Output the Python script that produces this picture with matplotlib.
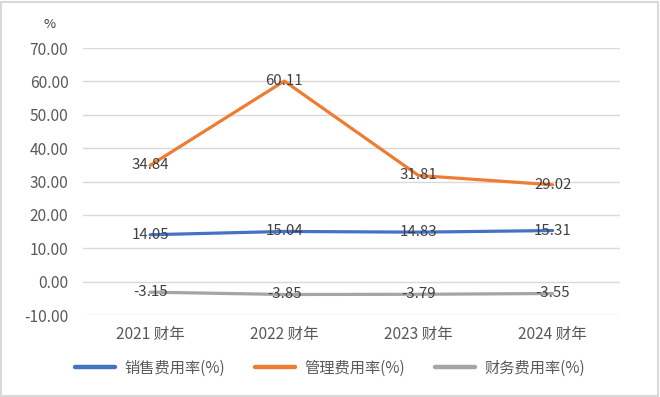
import matplotlib
matplotlib.use("Agg")
import matplotlib.pyplot as plt
from matplotlib.patches import Rectangle

plt.rcParams['font.family'] = ['Noto Sans CJK SC', 'DejaVu Sans']

categories = ["2021 财年", "2022 财年", "2023 财年", "2024 财年"]
sales_rate = [14.05, 15.04, 14.83, 15.31]
admin_rate = [34.84, 60.11, 31.81, 29.02]
fin_rate = [-3.15, -3.85, -3.79, -3.55]
series_names = ["销售费用率(%)", "管理费用率(%)", "财务费用率(%)"]
colors = ["#4472C4", "#ED7D31", "#A5A5A5"]

fig = plt.figure(figsize=(6.6, 3.97), dpi=100)
ax = fig.add_axes([0.1258, 0.2065, 0.8132, 0.6725])

x = list(range(len(categories)))
for vals, name, c in zip([sales_rate, admin_rate, fin_rate], series_names, colors):
    ax.plot(x, vals, color=c, lw=2.3, label=name, solid_capstyle='round', zorder=3)
    for xi, v in zip(x, vals):
        ax.text(xi, v, f"{v:.2f}", ha='center', va='center', fontsize=10.8,
                color='#404040', zorder=4)

ax.set_ylim(-10, 70)
ax.set_yticks(range(-10, 71, 10))
ax.set_yticklabels([f"{t:.2f}" for t in range(-10, 71, 10)])
ax.set_xlim(-0.5, 3.5)
ax.set_xticks(x)
ax.set_xticklabels(categories)
ax.tick_params(axis='both', length=0, labelsize=11.2, colors='#595959')
ax.tick_params(axis='y', pad=10.5)
ax.tick_params(axis='x', pad=8)
ax.grid(axis='y', color='#D9D9D9', lw=1)
ax.set_axisbelow(True)
for s in ax.spines.values():
    s.set_visible(False)

fig.text(50/660, 1 - 25/397, "%", ha='center', va='center', fontsize=9.5, color='#404040')

leg = fig.legend(loc='center', bbox_to_anchor=(0.5, 1 - 368/397), ncol=3, frameon=False,
                 fontsize=11, handlelength=2.6, columnspacing=2.0, handletextpad=0.6)
for line in leg.get_lines():
    line.set_linewidth(3.2)
for t in leg.get_texts():
    t.set_color('#595959')

fig.patches.append(Rectangle((0.002, 0.003), 0.995, 0.993, transform=fig.transFigure,
                             fill=False, edgecolor='#D9D9D9', lw=1.5))

fig.savefig("out.png", dpi=100)
